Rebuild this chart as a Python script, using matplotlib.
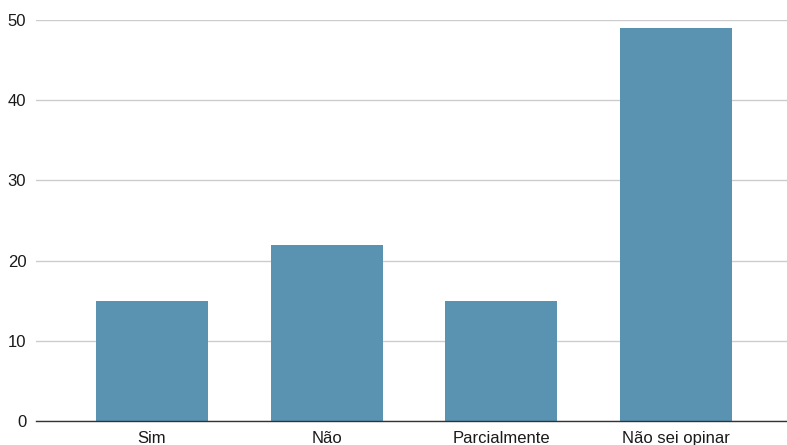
import matplotlib
matplotlib.use("Agg")
import matplotlib.pyplot as plt

categories = ["Sim", "Não", "Parcialmente", "Não sei opinar"]
values = [15, 22, 15, 49]
yticks = [0, 10, 20, 30, 40, 50]

plt.rcParams["font.family"] = ["Liberation Sans", "DejaVu Sans"]

fig = plt.figure(figsize=(7.87, 4.45), dpi=100)
ax = fig.add_axes([36 / 787, 1 - 421 / 445, 1 - 36 / 787, (421 - 20) / 445])

x = list(range(len(categories)))
ax.bar(x, values, width=0.64, color="#5a93b1", zorder=3)

ax.set_xlim(-0.663, 3.634)
ax.set_ylim(0, 50)
ax.set_yticks(yticks)
ax.set_xticks(x)
ax.set_xticklabels(categories)
ax.grid(axis="y", color="#cccccc", linewidth=1, zorder=0)
ax.set_axisbelow(True)

for side in ("top", "right", "left"):
    ax.spines[side].set_visible(False)
ax.spines["bottom"].set_color("#333333")
ax.spines["bottom"].set_linewidth(1)
ax.spines["bottom"].set_zorder(4)

ax.tick_params(axis="both", length=0, labelsize=12, colors="#1a1a1a")
ax.tick_params(axis="y", pad=7)
ax.tick_params(axis="x", pad=7)

fig.savefig("out.png", dpi=100)
